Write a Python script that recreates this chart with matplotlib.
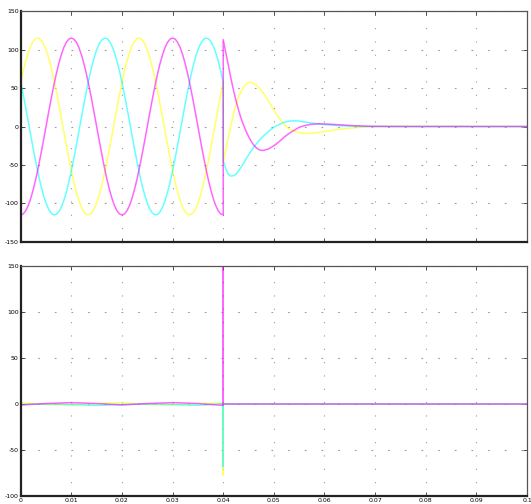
import matplotlib
matplotlib.use("Agg")
import matplotlib.pyplot as plt
import numpy as np

# sample times, ms (half-ms steps before the fault)
t_pre = np.arange(0, 81) * 0.5
t_post = [40, 40.5, 41, 41.5, 42, 42.5, 43, 43.5, 44, 44.5, 45, 45.5, 46, 46.5, 47, 47.5, 48, 48.5, 49, 49.5,
          50, 51, 52, 53, 54, 55, 56, 57, 58, 59, 60, 62, 64, 66, 68, 70, 75, 80, 90, 100]

# upper scope: phase voltages before the fault
yellow_pre = [57.5, 72.4, 85.5, 96.4, 105.1, 111.1, 114.4, 114.8, 112.5, 107.4,
              99.6, 89.4, 77.0, 62.6, 46.8, 29.8, 12.0, -6.0, -23.9, -41.2,
              -57.5, -72.4, -85.5, -96.4, -105.1, -111.1, -114.4, -114.8, -112.5, -107.4,
              -99.6, -89.4, -77.0, -62.6, -46.8, -29.8, -12.0, 6.0, 23.9, 41.2,
              57.5, 72.4, 85.5, 96.4, 105.1, 111.1, 114.4, 114.8, 112.5, 107.4,
              99.6, 89.4, 77.0, 62.6, 46.8, 29.8, 12.0, -6.0, -23.9, -41.2,
              -57.5, -72.4, -85.5, -96.4, -105.1, -111.1, -114.4, -114.8, -112.5, -107.4,
              -99.6, -89.4, -77.0, -62.6, -46.8, -29.8, -12.0, 6.0, 23.9, 41.2, 57.5]
magenta_pre = [-115, -113.6, -109.4, -102.5, -93.0, -81.3, -67.6, -52.2, -35.5, -18.0,
               0, 18.0, 35.5, 52.2, 67.6, 81.3, 93.0, 102.5, 109.4, 113.6,
               115, 113.6, 109.4, 102.5, 93.0, 81.3, 67.6, 52.2, 35.5, 18.0,
               0, -18.0, -35.5, -52.2, -67.6, -81.3, -93.0, -102.5, -109.4, -113.6,
               -115, -113.6, -109.4, -102.5, -93.0, -81.3, -67.6, -52.2, -35.5, -18.0,
               0, 18.0, 35.5, 52.2, 67.6, 81.3, 93.0, 102.5, 109.4, 113.6,
               115, 113.6, 109.4, 102.5, 93.0, 81.3, 67.6, 52.2, 35.5, 18.0,
               0, -18.0, -35.5, -52.2, -67.6, -81.3, -93.0, -102.5, -109.4, -113.6, -115]
cyan_pre = [57.5, 41.2, 23.9, 6.0, -12.0, -29.8, -46.8, -62.6, -77.0, -89.4,
            -99.6, -107.4, -112.5, -114.8, -114.4, -111.1, -105.1, -96.4, -85.5, -72.4,
            -57.5, -41.2, -23.9, -6.0, 12.0, 29.8, 46.8, 62.6, 77.0, 89.4,
            99.6, 107.4, 112.5, 114.8, 114.4, 111.1, 105.1, 96.4, 85.5, 72.4,
            57.5, 41.2, 23.9, 6.0, -12.0, -29.8, -46.8, -62.6, -77.0, -89.4,
            -99.6, -107.4, -112.5, -114.8, -114.4, -111.1, -105.1, -96.4, -85.5, -72.4,
            -57.5, -41.2, -23.9, -6.0, 12.0, 29.8, 46.8, 62.6, 77.0, 89.4,
            99.6, 107.4, 112.5, 114.8, 114.4, 111.1, 105.1, 96.4, 85.5, 72.4, 57.5]

# upper scope: after the fault at 0.04 s
yellow_post = [-47, -30, -14, 1, 16, 28, 38, 45, 51, 55, 57, 57.5, 56, 54, 51, 47, 43, 38, 32, 27,
               21, 11, 3, -3, -6, -8, -9, -9, -8.5, -7.5, -6.5, -4.5, -2.8, -1.5, -0.6, 0, 0.3, 0.2, 0, 0]
magenta_post = [113, 96, 80, 63, 48, 34, 22, 11, 2, -6, -13, -19, -24, -27.5, -30, -31, -31, -30, -29, -27,
                -25, -20, -14, -9, -5, -1, 1, 2.5, 3.2, 3.5, 3.3, 2.6, 1.8, 1.0, 0.5, 0.2, 0, 0, 0, 0]
cyan_post = [-45, -55, -62, -64.5, -64, -62, -58, -53, -48, -42, -37, -32, -27, -23, -19, -15, -12, -9, -6, -3.5,
             -1, 2.5, 5.5, 7, 7.5, 7, 6, 5, 4, 3.2, 2.5, 1.5, 0.8, 0.3, 0, 0, 0, 0, 0, 0]

# lower scope
t_low = [0, 5, 10, 15, 20, 25, 30, 35, 40, 40, 40, 100]
yellow_low = [1.5, -0.5, -1, 0.5, 1.5, -0.5, -1, 0.5, 1, -77, 0, 0]
cyan_low = [-0.5, 0, -0.5, -1.5, -0.5, 0, -0.5, -1.5, 0.5, -68, 0, 0]
magenta_low = [-1, 0.5, 1.5, 0.5, -1, 0.5, 1.5, 0.5, -1.5, 160, 0, 0]

x_ticks = [0, 0.01, 0.02, 0.03, 0.04, 0.05, 0.06, 0.07, 0.08, 0.09, 0.1]
x_labels = ["0", "0.01", "0.02", "0.03", "0.04", "0.05", "0.06", "0.07", "0.08", "0.09", "0.1"]
top_yticks = [-150, -100, -50, 0, 50, 100, 150]
low_yticks = [-100, -50, 0, 50, 100, 150]

YEL, MAG, CYA = "#ffff00", "#ff00ff", "#00ffff"


def style(ax, yticks, show_x):
    ax.set_xlim(0, 0.1)
    ax.set_ylim(yticks[0], yticks[-1])
    ax.set_xticks(x_ticks)
    ax.set_yticks(yticks)
    ax.set_yticklabels([str(v) for v in yticks])
    if show_x:
        ax.set_xticklabels(x_labels)
    else:
        ax.set_xticklabels([])
    ax.tick_params(direction="in", length=3, width=0.6, labelsize=4.5, pad=1.5,
                   top=True, right=True, colors="#333333", labelcolor="black")
    for s in ["left", "bottom"]:
        ax.spines[s].set_linewidth(1.6)
        ax.spines[s].set_color("#222222")
    for s in ["top", "right"]:
        ax.spines[s].set_linewidth(0.9)
        ax.spines[s].set_color("#555555")
    ax.xaxis.grid(True, color="#999999", linestyle=(0, (1, 11)), linewidth=0.8)
    ax.yaxis.grid(True, color="#999999", linestyle=(0, (1.5, 13.5)), linewidth=0.8)


fig = plt.figure(figsize=(5.31, 5.04), dpi=100)
ax1 = fig.add_axes([0.039, 0.520, 0.9535, 0.458])
ax2 = fig.add_axes([0.039, 0.016, 0.9535, 0.456])

tp = t_pre / 1000.0
tq = np.array(t_post) / 1000.0
kw = dict(linewidth=1.1, alpha=0.6)
ax1.plot(np.r_[tp, tq], yellow_pre + yellow_post, color=YEL, **kw)
ax1.plot(np.r_[tp, tq], cyan_pre + cyan_post, color=CYA, **kw)
ax1.plot(np.r_[tp, tq], magenta_pre + magenta_post, color=MAG, **kw)
style(ax1, top_yticks, False)

tl = np.array(t_low) / 1000.0
ax2.plot(tl, yellow_low, color=YEL, **kw)
ax2.plot(tl, cyan_low, color=CYA, **kw)
ax2.plot(tl, magenta_low, color=MAG, **kw)
style(ax2, low_yticks, True)

fig.savefig("out.png", dpi=100)
